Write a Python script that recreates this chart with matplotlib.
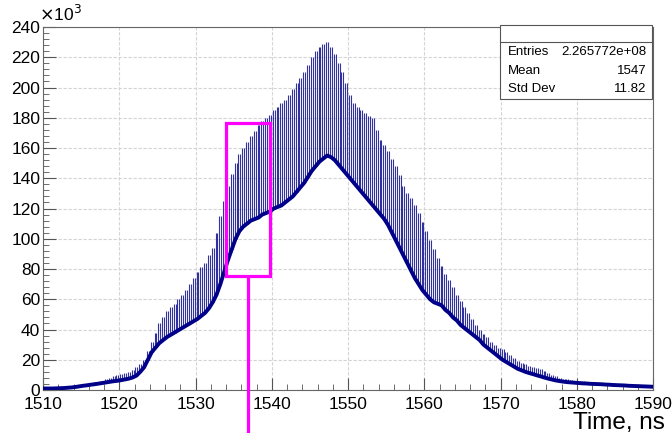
import numpy as np
import matplotlib
matplotlib.use("Agg")
import matplotlib.pyplot as plt
from matplotlib.patches import Rectangle
from matplotlib.lines import Line2D

plt.rcParams['font.family'] = ['Liberation Sans', 'DejaVu Sans']

# bin edges every 0.5 ns, 1510.0 ... 1589.5
bin_start = np.arange(1510.0, 1590.0, 0.5)

# smooth (low) bin contents, in units of 10^3
baseline = [
    1.0, 1.0, 1.0, 1.1, 1.2, 1.3, 1.5, 1.7, 2.0, 2.4,
    2.8, 3.1, 3.5, 3.8, 4.2, 4.6, 5.0, 5.4, 5.8, 6.1,
    6.5, 7.0, 7.5, 8.3, 9.5, 12, 15, 20, 25, 28,
    31, 33, 35, 36.5, 38, 39.5, 41, 42.5, 44, 45.5,
    47, 49, 51, 54, 58, 63, 70, 78, 86, 93,
    100, 105, 108, 110, 112, 113, 114, 116, 117, 118,
    120, 121, 122, 124, 126, 128, 131, 134, 137, 141,
    145, 148, 151, 153, 155, 154, 152, 149, 146, 143,
    140, 137, 134, 131, 128, 125, 122, 119, 116, 113,
    109, 104, 99, 94, 89, 84, 79, 74, 70, 66,
    63, 60, 58, 57, 56, 53, 51, 48, 46, 43,
    41, 39, 37, 35, 33, 30, 28, 26, 24, 22,
    20, 18.5, 17, 15.5, 14, 13, 12, 11.2, 10.5, 9.7,
    9, 8.2, 7.5, 6.9, 6.3, 5.9, 5.5, 5.2, 5.0, 4.8,
    4.6, 4.4, 4.3, 4.1, 4.0, 3.9, 3.8, 3.6, 3.5, 3.3,
    3.2, 3.1, 3.0, 2.8, 2.7, 2.6, 2.5, 2.4, 2.3, 2.2,
]

# heights of the spiky bins, in units of 10^3
spike_top = [
    1.5, 1.5, 1.5, 1.8, 2.0, 2.2, 2.5, 2.8, 3.0, 3.3,
    3.5, 4.0, 4.5, 5.0, 5.5, 6.2, 7.0, 8.0, 9.0, 9.8,
    10.5, 11.2, 12, 13.5, 15, 17, 20, 26, 32, 38,
    44, 48, 52, 55, 57, 60, 63, 66, 70, 74,
    78, 81, 84, 89, 94, 104, 115, 125, 135, 143,
    150, 156, 160, 164, 168, 171, 175, 178, 180, 182,
    185, 187, 190, 192, 195, 199, 203, 206, 210, 215,
    220, 224, 227, 229, 230, 227, 222, 216, 210, 203,
    195, 190, 187, 185, 183, 181, 180, 172, 165, 162,
    158, 153, 148, 142, 135, 130, 127, 122, 117, 111,
    105, 99, 93, 87, 82, 77, 73, 68, 63, 59,
    55, 51, 47, 43, 40, 37, 35, 32, 30, 28,
    27, 25, 23, 21, 19, 18, 17, 16, 15, 14.5,
    14, 12.5, 11, 10, 9, 8.2, 7.5, 7.0, 6.5, 6.2,
    6.0, 5.7, 5.5, 5.2, 5.0, 4.9, 4.8, 4.6, 4.5, 4.3,
    4.2, 4.1, 4.0, 3.8, 3.7, 3.6, 3.5, 3.4, 3.3, 3.1,
]

stats = [("Entries", "2.265772e+08"), ("Mean", "1547"), ("Std Dev", "11.82")]

# highlighted region (ns, 10^3)
box_t = (1534.0, 1539.8)
box_y = (75.4, 176.5)
marker_t = 1536.9

base = np.array(baseline)
top = np.array(spike_top)

fig = plt.figure(figsize=(6.72, 4.33), dpi=100)
ax = fig.add_axes([0.064, 0.0993, 0.908, 0.8383])

navy = '#000088'
for off in (0.125, 0.375):
    ax.vlines(bin_start + off, base, top, color=navy, lw=0.8, alpha=0.8, zorder=3)
ax.plot(bin_start + 0.25, base, color=navy, lw=2.8, zorder=4, solid_joinstyle='round')

ax.set_xlim(1510, 1590)
ax.set_ylim(0, 240)
ax.set_xticks(np.arange(1510, 1591, 10))
ax.set_xticks(np.arange(1510, 1591, 2), minor=True)
ax.set_yticks(np.arange(0, 241, 20))
ax.set_yticks(np.arange(0, 241, 4), minor=True)
ax.tick_params(which='both', direction='in', labelsize=12.5, color='#555555')
ax.tick_params(which='major', length=9)
ax.tick_params(which='minor', length=4.5)
ax.tick_params(axis='x', pad=5)
ax.tick_params(axis='y', pad=2)
ax.grid(True, which='major', color='#d4d4d4', lw=0.8, ls=(0, (3, 1.5)), zorder=1)
for s in ax.spines.values():
    s.set_color('#666666')
    s.set_linewidth(0.8)

fig.text(0.058, 0.945, r'$\times$10$^{3}$', fontsize=12.5, ha='left', va='bottom')
fig.text(0.99, 1 - 423 / 433, 'Time, ns', fontsize=17.5, ha='right', va='center')

# stats box
bx0, bx1 = 500 / 672, 652 / 672
by_top, by_bot = 1 - 25 / 433, 1 - 99 / 433
fig.patches.append(Rectangle((bx0, by_bot), bx1 - bx0, by_top - by_bot,
                             transform=fig.transFigure, facecolor='white',
                             edgecolor='#555555', lw=0.8, zorder=10))
fig.lines.append(Line2D([bx0, bx1], [1 - 42 / 433] * 2, transform=fig.transFigure,
                        color='#555555', lw=0.8, zorder=11))
for i, (k, v) in enumerate(stats):
    yy = 1 - (52 + 18.5 * i) / 433
    fig.text(bx0 + 0.012, yy, k, fontsize=9.5, va='center', ha='left', zorder=12)
    fig.text(bx1 - 0.008, yy, v, fontsize=9.5, va='center', ha='right', zorder=12)

# magenta highlight
ax.add_patch(Rectangle((box_t[0], box_y[0]), box_t[1] - box_t[0], box_y[1] - box_y[0],
                       fill=False, edgecolor='#ff00ff', lw=2.3, zorder=6, clip_on=False))
ax.plot([marker_t, marker_t], [box_y[0], -29], color='#ff00ff', lw=2.3,
        zorder=6, clip_on=False, solid_capstyle='butt')

fig.savefig('out.png', dpi=100)
